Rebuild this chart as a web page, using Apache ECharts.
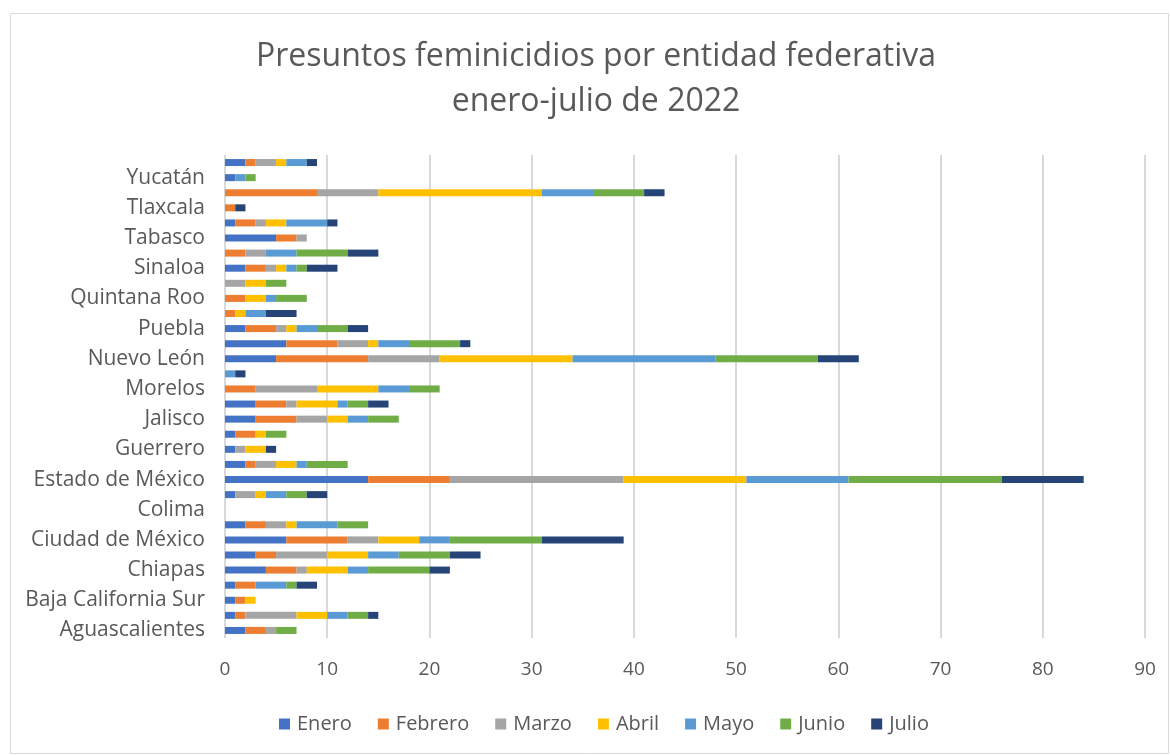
<!DOCTYPE html>
<html>
<head>
<meta charset="utf-8">
<script src="https://cdn.jsdelivr.net/npm/echarts@6/dist/echarts.min.js"></script>
<style>
html,body{margin:0;padding:0;background:#fff;}
#c{width:1170px;height:755px;}
</style>
</head>
<body>
<div id="c"></div>
<script>
const estados = ["Aguascalientes","Baja California","Baja California Sur","Campeche","Chiapas","Chihuahua","Ciudad de México","Coahuila","Colima","Durango","Estado de México","Guanajuato","Guerrero","Hidalgo","Jalisco","Michoacán","Morelos","Nayarit","Nuevo León","Oaxaca","Puebla","Querétaro","Quintana Roo","San Luis Potosí","Sinaloa","Sonora","Tabasco","Tamaulipas","Tlaxcala","Veracruz","Yucatán","Zacatecas"];
const meses = ["Enero","Febrero","Marzo","Abril","Mayo","Junio","Julio"];
const enero   = [2,1,1,1,4,3,6,2,0,1,14,2,1,1,3,3,0,0,5,6,2,0,0,0,2,0,5,1,0,0,1,2];
const febrero = [2,1,1,2,3,2,6,2,0,0,8,1,0,2,4,3,3,0,9,5,3,1,2,0,2,2,2,2,1,9,0,1];
const marzo   = [1,5,0,0,1,5,3,2,0,2,17,2,1,0,3,1,6,0,7,3,1,0,0,2,1,2,1,1,0,6,0,2];
const abril   = [0,3,1,0,4,4,4,1,0,1,12,2,2,1,2,4,6,0,13,1,1,1,2,2,1,0,0,2,0,16,0,1];
const mayo    = [0,2,0,3,2,3,3,4,0,2,10,1,0,0,2,1,3,1,14,3,2,2,1,0,1,3,0,4,0,5,1,2];
const junio   = [2,2,0,1,6,5,9,3,0,2,15,4,0,2,3,2,3,0,10,5,3,0,3,2,1,5,0,0,0,5,1,0];
const julio   = [0,1,0,2,2,3,8,0,0,2,8,0,1,0,0,2,0,1,4,1,2,3,0,0,3,3,0,1,1,2,0,1];
const xTicks = [0,10,20,30,40,50,60,70,80,90];

const colores = ["#4472C4","#ED7D31","#A5A5A5","#FFC000","#5B9BD5","#70AD47","#264478"];
const valores = [enero,febrero,marzo,abril,mayo,junio,julio];
const fuente = "Open Sans";

const chart = echarts.init(document.getElementById('c'), null, {renderer:'canvas'});
chart.setOption({
  animation:false,
  backgroundColor:'#fff',
  graphic:[
    {type:'rect',left:8,top:11,shape:{width:1158,height:740},style:{fill:'none',stroke:'#d9d9d9',lineWidth:1},silent:true,z:-1},
    {type:'text',x:596,y:57,style:{text:'Presuntos feminicidios por entidad federativa',fontFamily:fuente,fontSize:32,fill:'#595959',align:'center',verticalAlign:'middle'}},
    {type:'text',x:596,y:102,style:{text:'enero-julio de 2022',fontFamily:fuente,fontSize:32,fill:'#595959',align:'center',verticalAlign:'middle'}}
  ],
  legend:{
    data:meses, bottom:16, left:274,
    itemWidth:11,itemHeight:11,itemGap:26,icon:'rect',
    textStyle:{fontFamily:fuente,fontSize:20,color:'#595959',padding:[0,0,0,2]}
  },
  grid:{left:225,right:25,top:155,bottom:117,containLabel:false},
  xAxis:{
    type:'value',min:xTicks[0],max:xTicks[xTicks.length-1],interval:10,
    axisLine:{show:false},axisTick:{show:false},
    axisLabel:{fontFamily:fuente,fontSize:19,color:'#595959',margin:22},
    splitLine:{show:true,lineStyle:{color:'#d9d9d9',width:2}}
  },
  yAxis:{
    type:'category',data:estados,
    axisLine:{show:false},axisTick:{show:false},
    axisLabel:{interval:1,fontFamily:fuente,fontSize:21,color:'#595959',margin:20}
  },
  series: meses.map((m,i)=>({
    name:m,type:'bar',stack:'total',data:valores[i],
    barWidth:7,
    itemStyle:{color:colores[i]}
  }))
});
</script>
</body>
</html>
